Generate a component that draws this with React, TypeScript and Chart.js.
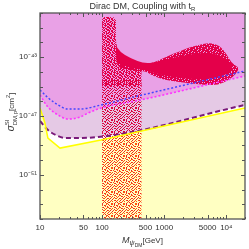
import React, { useEffect, useRef } from "react";
import { Chart, registerables } from "chart.js";

Chart.register(...registerables);

// ---------- axis ticks ----------
const xTickValues = [10, 50, 100, 500, 1000, 5000, 10000];
const xTickLabels = ["10", "50", "100", "500", "1000", "5000", "10⁴"];
const yDecadeExps = [-54, -53, -52, -51, -50, -49, -48, -47, -46, -45, -44, -43, -42, -41, -40];
const yLabelExps = [-43, -47, -51];
const yLabelTexts = ["10⁻⁴³", "10⁻⁴⁷", "10⁻⁵¹"];

// ---------- limit curves (mass in GeV, log10 sigma) ----------
const blueMass = [10, 13.4, 19.5, 28.2, 44, 96, 378, 20000];
const blueExp = [-45.23, -45.75, -46.25, -46.53, -46.53, -46.25, -45.64, -43.94];
const magentaMass = [10, 13.4, 19.5, 28.2, 44, 59.3, 96, 378, 20000];
const magentaExp = [-45.57, -46.39, -46.93, -47.21, -47.07, -46.8, -46.46, -45.95, -44.28];
const purpleMass = [10, 13.4, 19.5, 26.2, 85.9, 20000];
const purpleExp = [-47.34, -47.95, -48.36, -48.5, -48.43, -46.25];
const yellowMass = [10, 12.0, 13.4, 21, 96, 20000];
const yellowExp = [-46.46, -47.48, -48.5, -49.18, -48.63, -46.46];

// ---------- scan point clouds (outlines) ----------
const spikeMass = [100, 104, 150, 167, 167, 174, 209, 303, 430, 430, 100];
const spikeExp = [-40.42, -40.27, -40.27, -40.45, -41.84, -42.52, -42.92, -43.26, -43.5, -45.0, -45.0];
const bandMass = [100, 430, 430, 100];
const bandExp = [-44.5, -44.5, -48.02, -48.62];
const bandLowMass = [100, 430, 430, 100];
const bandLowExp = [-48.62, -48.02, -54.2, -54.2];
const blobMass = [167, 174, 209, 303, 491, 711, 922, 1240, 1667, 2415, 3500, 5070, 6820, 8530, 10270, 11900, 14330, 16030, 14330, 11050, 7350, 4540, 2415, 1240, 794, 591, 491, 378, 233, 167];
const blobExp = [-41.84, -42.52, -42.92, -43.26, -43.54, -43.33, -43.13, -42.86, -42.65, -42.38, -42.18, -42.04, -42.11, -42.38, -42.86, -43.33, -43.6, -43.74, -44.15, -44.55, -44.89, -44.89, -44.76, -44.62, -44.42, -44.15, -43.94, -43.94, -43.87, -43.6];
const coreMass = [167, 194, 282, 491, 860, 1800, 3780, 6600, 10600, 13300, 9500, 4540, 1800, 860, 491, 282, 167];
const coreExp = [-42.18, -42.65, -43.06, -43.47, -43.26, -42.92, -42.72, -42.72, -43.2, -43.74, -44.28, -44.55, -44.42, -44.21, -43.87, -43.74, -43.33];

// ---------- styles ----------
const PINK = "rgb(233,161,230)";
const LAVENDER = "rgb(229,201,229)";
const WHITE = "#ffffff";
const PALE_YELLOW = "rgb(255,255,194)";
const CRIMSON = "rgb(228,0,74)";
const ORANGE = "rgb(255,78,16)";
const RED2 = "rgb(235,30,40)";
const FONT = '"Liberation Sans", Arial, sans-serif';
const TEXT = "#333";

const denseDots = [
  "xxx.xxxxx.xx",
  "x.xxxx.xxxxx",
  "xxxxx.xxx.xx",
  ".xxxxxxx.xxx",
  "xx.xxx.xxxx.",
  "xxxxxxxx.xxx",
  "x.xxx.xxxxx.",
  "xxxx.xxx.xxx",
  "xx.xxxxxxx.x",
  "xxxxx.x.xxxx",
  ".xxxxxxxxx.x",
  "xxx.xx.xxxxx",
];
const spikeDots = [
  "xx.x.xxx.x.x",
  ".xxx..x.xxx.",
  "x.xx.xx..x.x",
  "xx..x.xxx..x",
  ".xx.xx.x.xx.",
  "x.x..xx.x.xx",
  "xx.xx..xx..x",
  ".x.xx.x..xx.",
  "xx..xx.xx.x.",
  "x.xx..x.x.xx",
  ".xx.x.xx..x.",
  "x..xx.x.xx.x",
];
const bandDots = [
  "x..xx.x...x.",
  ".x....x.xx..",
  "..xx.x...x.x",
  "x.....xx...x",
  ".xx.x...x.x.",
  "...x..x..x..",
  "x.x..x.xx..x",
  ".x..x.....x.",
  "x..x..xx.x..",
  "..x.x...x..x",
  "xx.....x.x..",
  "...xx.x...xx",
];
const lowDots = [
  "o..xx.o...x.",
  ".x....x.ox..",
  "..xo.x...x.o",
  "x.....xo...x",
  ".ox.x...x.x.",
  "...x..o..x..",
  "x.o..x.xx..o",
  ".x..o.....x.",
  "o..x..xo.x..",
  "..x.x...x..x",
  "xo.....x.o..",
  "...xx.o...xx",
];

type Seg = { t: string; size: number; dy: number; italic?: boolean; noAdvance?: boolean };

function drawRich(ctx: CanvasRenderingContext2D, segs: Seg[], cx: number, cy: number) {
  const fontOf = (s: Seg) => `${s.italic ? "italic " : ""}${s.size}px ${FONT}`;
  let total = 0;
  for (const s of segs) {
    ctx.font = fontOf(s);
    if (!s.noAdvance) total += ctx.measureText(s.t).width;
  }
  let x = cx - total / 2;
  ctx.textAlign = "left";
  ctx.textBaseline = "alphabetic";
  ctx.fillStyle = TEXT;
  for (const s of segs) {
    ctx.font = fontOf(s);
    ctx.fillText(s.t, x, cy + s.dy);
    if (!s.noAdvance) x += ctx.measureText(s.t).width;
  }
}

export default function App() {
  const ref = useRef<HTMLCanvasElement>(null);

  useEffect(() => {
    const canvas = ref.current!;
    const ctx0 = canvas.getContext("2d")!;
    const mk = (rows: string[], colors: Record<string, string>) => {
      const c = document.createElement("canvas");
      c.width = rows[0].length;
      c.height = rows.length;
      const g = c.getContext("2d")!;
      rows.forEach((r, yy) => {
        for (let xx = 0; xx < r.length; xx++) {
          const col = colors[r[xx]];
          if (col) {
            g.fillStyle = col;
            g.fillRect(xx, yy, 1, 1);
          }
        }
      });
      return ctx0.createPattern(c, "repeat")!;
    };
    const densePat = mk(denseDots, { x: CRIMSON });
    const spikePat = mk(spikeDots, { x: CRIMSON });
    const bandPat = mk(bandDots, { x: "rgb(220,0,60)" });
    const lowPat = mk(lowDots, { x: ORANGE, o: RED2 });

    const clouds: { m: number[]; e: number[]; fill: any; smooth: boolean }[] = [
      { m: bandLowMass, e: bandLowExp, fill: lowPat, smooth: false },
      { m: bandMass, e: bandExp, fill: bandPat, smooth: false },
      { m: spikeMass, e: spikeExp, fill: spikePat, smooth: false },
      { m: blobMass, e: blobExp, fill: densePat, smooth: true },
      { m: coreMass, e: coreExp, fill: CRIMSON, smooth: true },
    ];

    const pts = (m: number[], e: number[]) => m.map((v, i) => ({ x: v, y: Math.pow(10, e[i]) }));

    const bgPlugin = {
      id: "bg",
      beforeDatasetsDraw(chart: any) {
        const { ctx, chartArea: a } = chart;
        ctx.save();
        ctx.fillStyle = PINK;
        ctx.fillRect(a.left, a.top, a.right - a.left, a.bottom - a.top);
        ctx.restore();
      },
    };

    const cloudPlugin = {
      id: "clouds",
      afterDatasetDraw(chart: any, args: any) {
        if (args.index !== 2) return;
        const { ctx, chartArea: a, scales } = chart;
        const xs = scales.x, ys = scales.y;
        ctx.save();
        ctx.beginPath();
        ctx.rect(a.left, a.top, a.right - a.left, a.bottom - a.top);
        ctx.clip();
        for (const c of clouds) {
          const p = c.m.map((v, i) => [xs.getPixelForValue(v), ys.getPixelForValue(Math.pow(10, c.e[i]))]);
          const n = p.length;
          ctx.beginPath();
          if (c.smooth) {
            const mid = (i: number) => [(p[i][0] + p[(i + 1) % n][0]) / 2, (p[i][1] + p[(i + 1) % n][1]) / 2];
            const m0 = mid(n - 1);
            ctx.moveTo(m0[0], m0[1]);
            for (let i = 0; i < n; i++) {
              const m1 = mid(i);
              ctx.quadraticCurveTo(p[i][0], p[i][1], m1[0], m1[1]);
            }
          } else {
            ctx.moveTo(p[0][0], p[0][1]);
            for (let i = 1; i < n; i++) ctx.lineTo(p[i][0], p[i][1]);
          }
          ctx.closePath();
          ctx.fillStyle = c.fill;
          ctx.fill();
        }
        ctx.restore();
      },
    };

    const framePlugin = {
      id: "frame",
      afterDatasetsDraw(chart: any) {
        const { ctx, chartArea: a, scales } = chart;
        const xs = scales.x, ys = scales.y;
        ctx.save();
        ctx.strokeStyle = "#555";
        ctx.lineWidth = 1;
        ctx.beginPath();
        for (const d of [10, 100, 1000, 10000]) {
          for (let k = 1; k <= 9; k++) {
            const v = d * k;
            if (v < 10 || v > 20000) continue;
            const px = Math.round(xs.getPixelForValue(v)) + 0.5;
            const len = xTickValues.includes(v) ? 4 : 2;
            ctx.moveTo(px, a.bottom);
            ctx.lineTo(px, a.bottom - len);
            ctx.moveTo(px, a.top);
            ctx.lineTo(px, a.top + len);
          }
        }
        for (const e of yDecadeExps) {
          const py = Math.round(ys.getPixelForValue(Math.pow(10, e))) + 0.5;
          const len = yLabelExps.includes(e) ? 4 : 3;
          ctx.moveTo(a.left, py);
          ctx.lineTo(a.left + len, py);
          ctx.moveTo(a.right, py);
          ctx.lineTo(a.right - len, py);
        }
        ctx.stroke();
        ctx.lineWidth = 1.3;
        ctx.strokeStyle = "#555";
        ctx.strokeRect(a.left, a.top, a.right - a.left, a.bottom - a.top);
        ctx.restore();
      },
      afterDraw(chart: any) {
        const { ctx, chartArea: a } = chart;
        ctx.save();
        const cx = (a.left + a.right) / 2;
        drawRich(ctx, [
          { t: "Dirac DM, Coupling with t", size: 9, dy: 0 },
          { t: "R", size: 6, dy: 2 },
        ], cx, 8.5);
        drawRich(ctx, [
          { t: "M", size: 9, dy: 0, italic: true },
          { t: "ψ", size: 7, dy: 2, italic: true },
          { t: "DM", size: 5, dy: 4 },
          { t: "[GeV]", size: 8, dy: 0 },
        ], cx, 243);
        ctx.save();
        ctx.translate(14, 112);
        ctx.rotate(-Math.PI / 2);
        drawRich(ctx, [
          { t: "σ", size: 10, dy: 0, italic: true },
          { t: "SI", size: 6, dy: -5, noAdvance: true },
          { t: "DM,p", size: 6, dy: 2.5 },
          { t: "[cm", size: 8, dy: 0 },
          { t: "2", size: 5.5, dy: -4 },
          { t: "]", size: 8, dy: 0 },
        ], 0, 0);
        ctx.restore();
        ctx.restore();
      },
    };

    const fillDs = (m: number[], e: number[], color: string, order: number) => ({
      data: pts(m, e),
      borderColor: "rgba(0,0,0,0)",
      borderWidth: 0,
      backgroundColor: color,
      fill: "start",
      pointRadius: 0,
      cubicInterpolationMode: "monotone",
      order,
    });

    const chart = new Chart(canvas, {
      type: "line",
      data: {
        datasets: [
          fillDs(magentaMass, magentaExp, LAVENDER, 9) as any,
          fillDs(purpleMass, purpleExp, WHITE, 8) as any,
          { ...(fillDs(yellowMass, yellowExp, PALE_YELLOW, 7) as any), cubicInterpolationMode: "default", tension: 0 },
          {
            data: pts(blueMass, blueExp),
            borderColor: "rgb(70,70,255)",
            borderWidth: 1.5,
            borderDash: [2, 2],
            fill: false,
            pointRadius: 0,
            cubicInterpolationMode: "monotone",
            order: 4,
          },
          {
            data: pts(magentaMass, magentaExp),
            borderColor: "rgb(255,50,255)",
            borderWidth: 1.6,
            borderDash: [2, 2],
            fill: false,
            pointRadius: 0,
            cubicInterpolationMode: "monotone",
            order: 3,
          },
          {
            data: pts(purpleMass, purpleExp),
            borderColor: "rgb(122,26,122)",
            borderWidth: 2,
            borderDash: [5, 3],
            fill: false,
            pointRadius: 0,
            cubicInterpolationMode: "monotone",
            order: 2,
          },
          {
            data: pts(yellowMass, yellowExp),
            borderColor: "rgb(255,255,0)",
            borderWidth: 1.5,
            fill: false,
            pointRadius: 0,
            tension: 0,
            order: 1,
          },
        ],
      },
      options: {
        animation: false,
        responsive: true,
        maintainAspectRatio: false,
        layout: { padding: { left: 0, right: 4, top: 13, bottom: 0 } },
        plugins: {
          legend: { display: false },
          tooltip: { enabled: false },
          title: { display: false },
        },
        events: [],
        scales: {
          x: {
            type: "logarithmic",
            min: 10,
            max: 20000,
            afterBuildTicks: (s: any) => {
              s.ticks = xTickValues.map((v) => ({ value: v }));
            },
            afterFit: (s: any) => {
              s.height = 30;
            },
            grid: { display: false, drawTicks: false },
            border: { display: false },
            ticks: {
              autoSkip: false,
              maxRotation: 0,
              minRotation: 0,
              padding: 4,
              color: TEXT,
              font: { size: 8, family: FONT },
              callback: (_v: any, i: number) => xTickLabels[i],
            },
          },
          y: {
            type: "logarithmic",
            min: 1e-54,
            max: 1e-40,
            afterBuildTicks: (s: any) => {
              s.ticks = yDecadeExps.map((e) => ({ value: Math.pow(10, e) }));
            },
            afterFit: (s: any) => {
              s.width = 40;
            },
            grid: { display: false, drawTicks: false },
            border: { display: false },
            ticks: {
              autoSkip: false,
              padding: 3,
              color: TEXT,
              font: { size: 8, family: FONT },
              callback: (v: any) => {
                const e = Math.round(Math.log10(Number(v)));
                const i = yLabelExps.indexOf(e);
                return i >= 0 ? yLabelTexts[i] : "";
              },
            },
          },
        },
      } as any,
      plugins: [bgPlugin, cloudPlugin, framePlugin],
    });

    return () => chart.destroy();
  }, []);

  return (
    <div style={{ position: "fixed", left: 0, top: 0, width: 249, height: 249, background: "#fff" }}>
      <canvas ref={ref} />
    </div>
  );
}
